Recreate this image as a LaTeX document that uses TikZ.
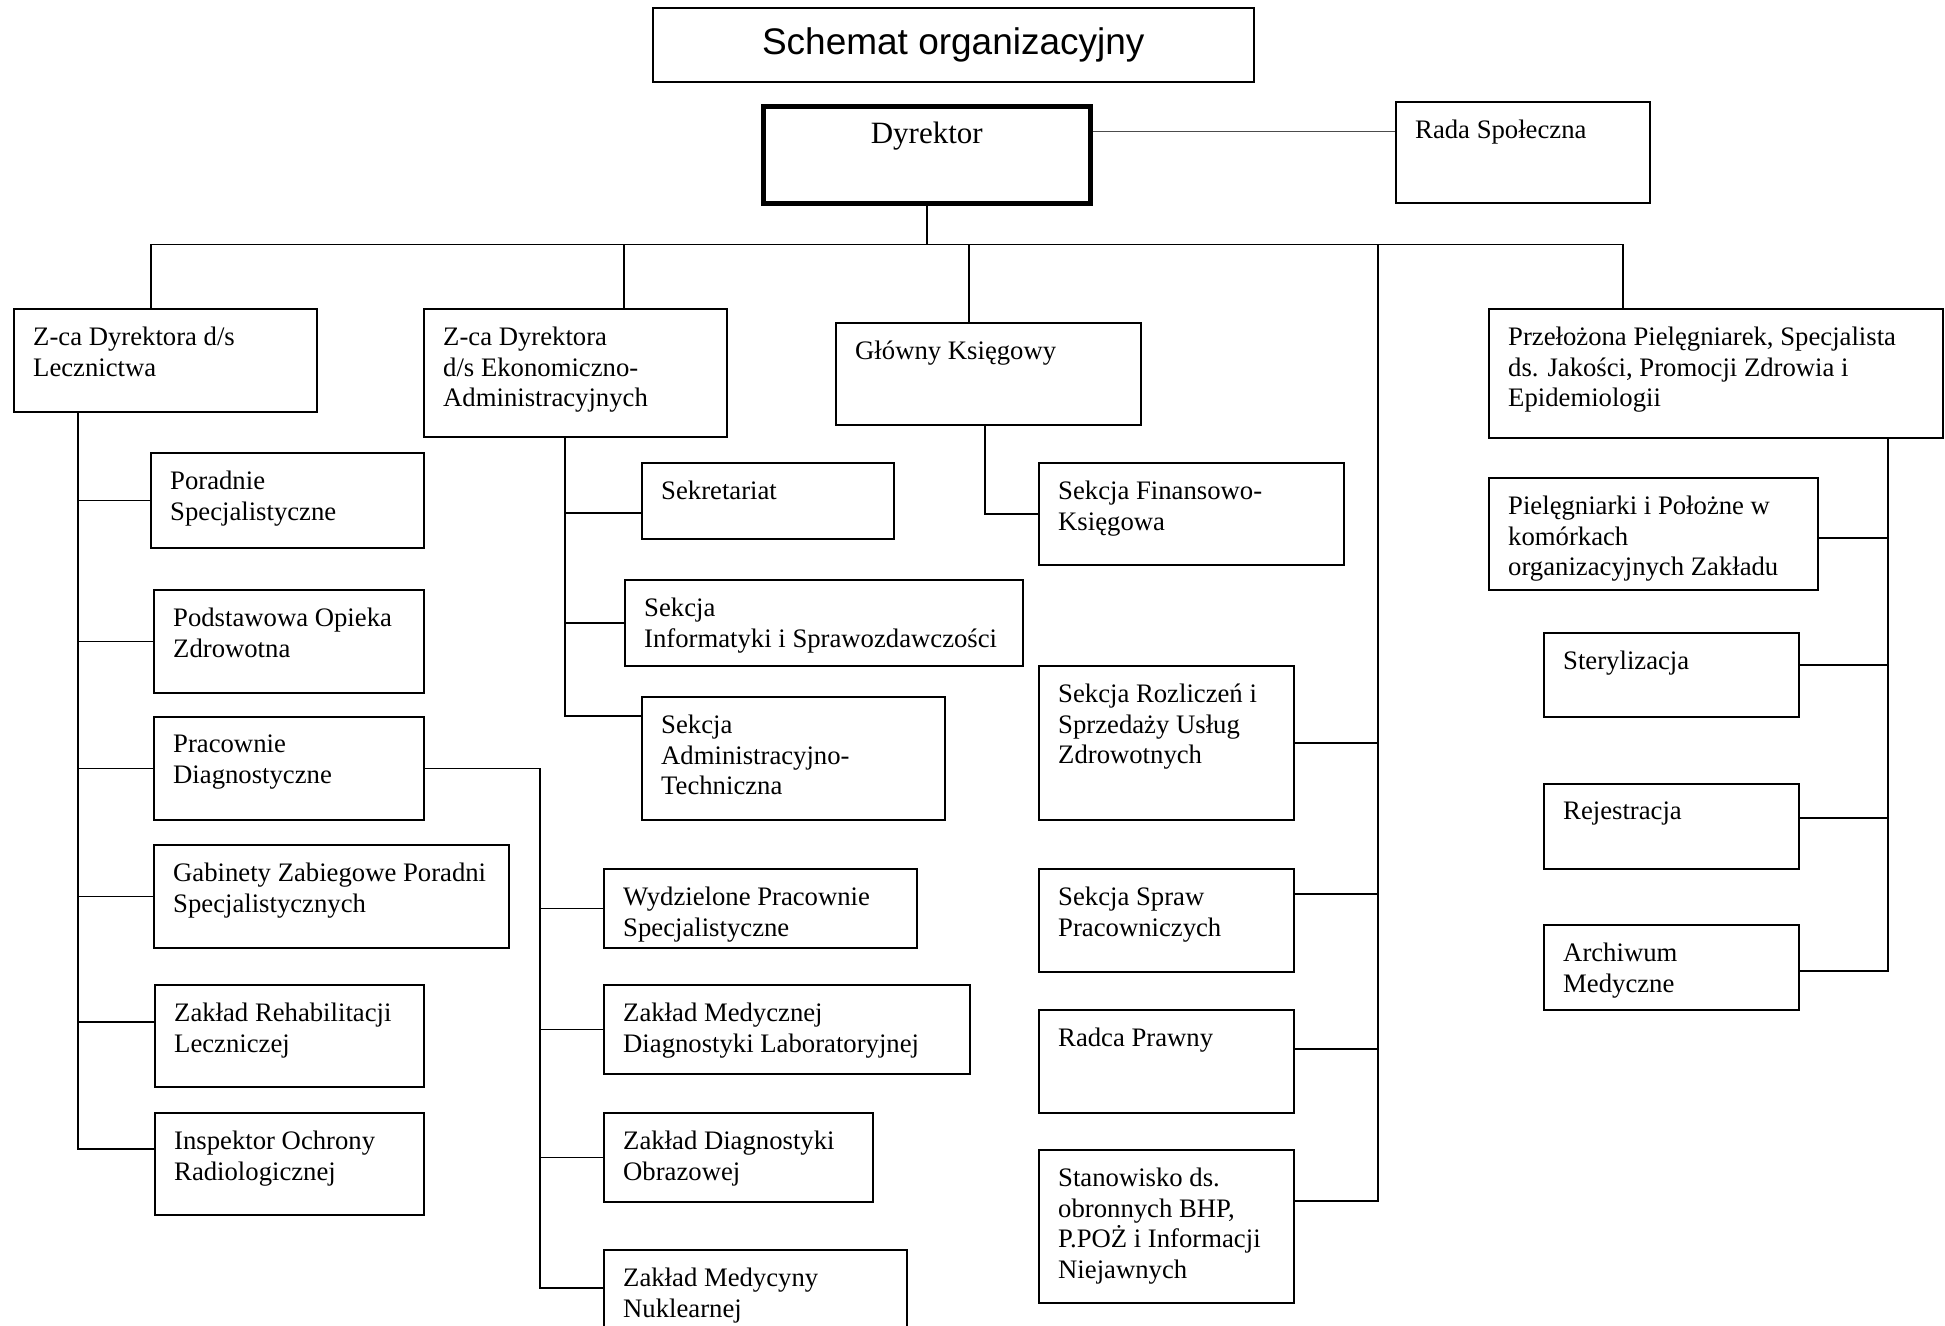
\documentclass[tikz,border=0pt]{standalone}
\usepackage{fontspec}
\setmainfont{Liberation Serif}
\newfontfamily\arialfont{Liberation Sans}
\usetikzlibrary{calc}
\tikzset{
  box/.style={draw, line width=1.8pt, anchor=north west, inner sep=0pt},
  txt/.style={anchor=north west, align=left, inner sep=0pt, font=\fontsize{26.7}{30.5}\selectfont},
  conn/.style={line width=1.6pt},
}
% frame + text in upper left corner
\newcommand{\orgbox}[6]{%
  \node[box, minimum width=#4pt, minimum height=#5pt] (#1) at (#2,-#3) {};
  \node[txt] (#1-t) at ([shift={(20,-19)}]#1.north west) {#6};
}
\begin{document}
\begin{tikzpicture}[x=1pt, y=1pt]
\useasboundingbox (0,0) rectangle (1945,-1325);

% top
\node[box, line width=1.5pt, minimum width=601pt, minimum height=74pt,
  font=\arialfont\fontsize{37}{44}\selectfont] (title) at (652,-7) {Schemat organizacyjny};
\node[box, line width=4.5pt, minimum width=327pt, minimum height=97pt] (dyr) at (761,-104) {};
\node[anchor=north, inner sep=0pt, font=\fontsize{31}{36}\selectfont] (dyr-t) at ([yshift=-18]dyr.north) {Dyrektor};
\orgbox{rada}{1395}{101}{254}{101}{Rada Społeczna}
\draw[line width=1pt, black!70] ([yshift=-27]dyr.north east) -- ([yshift=-30]rada.north west);

% second level
\orgbox{lecz}{13}{308}{303}{103}{Z-ca Dyrektora d/s\\Lecznictwa}
\orgbox{ekon}{423}{308}{303}{128}{Z-ca Dyrektora\\d/s Ekonomiczno-\\Administracyjnych}
\orgbox{glow}{835}{322}{305}{102}{Główny Księgowy}
\orgbox{przel}{1488}{308}{454}{129}{Przełożona Pielęgniarek, Specjalista\\ds. Jakości, Promocji Zdrowia i\\Epidemiologii}

% lecznictwo
\orgbox{porad}{150}{452}{273}{95}{Poradnie\\Specjalistyczne}
\orgbox{podst}{153}{589}{270}{103}{Podstawowa Opieka\\Zdrowotna}
\orgbox{prac}{153}{716}{270}{103}{Pracownie\\Diagnostyczne}
\orgbox{gabin}{153}{844}{355}{103}{Gabinety Zabiegowe Poradni\\Specjalistycznych}
\orgbox{rehab}{154}{984}{269}{102}{Zakład Rehabilitacji\\Leczniczej}
\orgbox{insp}{154}{1112}{269}{102}{Inspektor Ochrony\\Radiologicznej}

% pracownie
\orgbox{wydz}{603}{868}{313}{79}{Wydzielone Pracownie\\Specjalistyczne}
\orgbox{medlab}{603}{984}{366}{89}{Zakład Medycznej\\Diagnostyki Laboratoryjnej}
\orgbox{obraz}{603}{1112}{269}{89}{Zakład Diagnostyki\\Obrazowej}
\orgbox{nukl}{603}{1249}{303}{86}{Zakład Medycyny\\Nuklearnej}

% ekonomiczno-administracyjne
\orgbox{sekr}{641}{462}{252}{76}{Sekretariat}
\orgbox{infor}{624}{579}{398}{86}{Sekcja\\Informatyki i Sprawozdawczości}
\orgbox{admin}{641}{696}{303}{123}{Sekcja\\Administracyjno-\\Techniczna}

% ksiegowy
\orgbox{finans}{1038}{462}{305}{102}{Sekcja Finansowo-\\Księgowa}
\orgbox{rozl}{1038}{665}{255}{154}{Sekcja Rozliczeń i\\Sprzedaży Usług\\Zdrowotnych}
\orgbox{spraw}{1038}{868}{255}{103}{Sekcja Spraw\\Pracowniczych}
\orgbox{radca}{1038}{1009}{255}{103}{Radca Prawny}
\orgbox{stan}{1038}{1149}{255}{153}{Stanowisko ds.\\obronnych BHP,\\P.POŻ i Informacji\\Niejawnych}

% pielegniarki
\orgbox{piel}{1488}{477}{329}{112}{Pielęgniarki i Położne w\\komórkach\\organizacyjnych Zakładu}
\orgbox{steryl}{1543}{632}{255}{84}{Sterylizacja}
\orgbox{rejestr}{1543}{783}{255}{85}{Rejestracja}
\orgbox{archiw}{1543}{924}{255}{85}{Archiwum\\Medyczne}

% bus under Dyrektor
\coordinate (bus) at ([yshift=-39]dyr.south);
\coordinate (leczDrop) at ([xshift=138]lecz.north west);
\coordinate (ekonDrop) at ([xshift=201]ekon.north west);
\coordinate (glowDrop) at ([xshift=134]glow.north west);
\coordinate (przelDrop) at ([xshift=135]przel.north west);
\draw[conn] (dyr.south) -- (bus);
\draw[conn] (leczDrop) |- (bus -| przelDrop) -- (przelDrop);
\draw[conn] (ekonDrop) -- (ekonDrop |- bus);
\draw[conn] (glowDrop) -- (glowDrop |- bus);

% lecznictwo trunk
\coordinate (leczTrunk) at ([xshift=65]lecz.south west);
\draw[conn] (leczTrunk) |- ([yshift=-37]insp.north west);
\draw[conn] (porad.west) -| (leczTrunk);
\draw[conn] (podst.west) -| (leczTrunk);
\draw[conn] (prac.west) -| (leczTrunk);
\draw[conn] (gabin.west) -| (leczTrunk);
\draw[conn] ([yshift=-38]rehab.north west) -| (leczTrunk);

% pracownie trunk
\coordinate (pracTrunk) at ([xshift=115]prac.east);
\draw[conn] (prac.east) -- (pracTrunk) |- ([yshift=-39]nukl.north west);
\draw[conn] (wydz.west) -| (pracTrunk);
\draw[conn] (medlab.west) -| (pracTrunk);
\draw[conn] (obraz.west) -| (pracTrunk);

% ekonomiczno-administracyjne trunk
\coordinate (ekonTrunk) at ([xshift=142]ekon.south west);
\draw[conn] (ekonTrunk) |- ([yshift=-20]admin.north west);
\draw[conn] ([yshift=-51]sekr.north west) -| (ekonTrunk);
\draw[conn] (infor.west) -| (ekonTrunk);

% ksiegowy
\coordinate (glowTrunk) at ([xshift=150]glow.south west);
\draw[conn] (glowTrunk) |- (finans.west);

% long trunk from bus
\coordinate (radTrunk) at ([xshift=83]rozl.east);
\coordinate (radTop) at (bus -| radTrunk);
\draw[conn] (radTop) |- ([yshift=-52]stan.north east);
\draw[conn] (rozl.east) -| (radTop);
\draw[conn] ([yshift=-26]spraw.north east) -| (radTop);
\draw[conn] ([yshift=-40]radca.north east) -| (radTop);

% pielegniarki trunk
\coordinate (przelTrunk) at ([xshift=-56]przel.south east);
\draw[conn] (przelTrunk) |- ([yshift=-47]archiw.north east);
\draw[conn] ([yshift=-61]piel.north east) -| (przelTrunk);
\draw[conn] ([yshift=-33]steryl.north east) -| (przelTrunk);
\draw[conn] ([yshift=-35]rejestr.north east) -| (przelTrunk);
\end{tikzpicture}
\end{document}
